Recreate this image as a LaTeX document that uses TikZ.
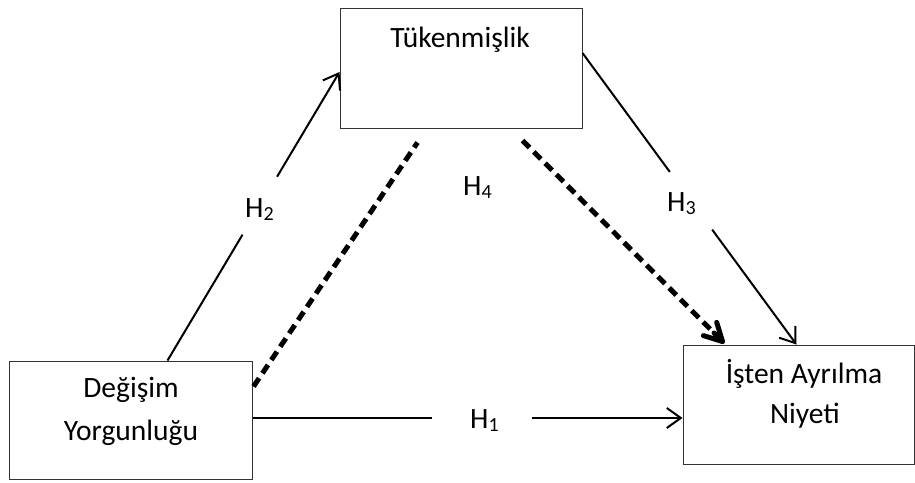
\documentclass[tikz,border=0pt]{standalone}
\usepackage{fontspec}
\setmainfont{Carlito}
\usetikzlibrary{arrows.meta,calc}
\newcommand\Hsub[1]{H\raisebox{-3.5pt}{\fontsize{20}{20}\selectfont #1}}
\begin{document}
\begin{tikzpicture}[x=1pt,y=-1pt,
  box/.style={draw=black!80, line width=1pt, inner sep=0pt},
  lbl/.style={font=\fontsize{29.5}{34}\selectfont, inner sep=0pt, anchor=base},
  hlbl/.style={font=\fontsize{29.5}{34}\selectfont, inner sep=0pt, anchor=base west},
  plain/.style={line width=2pt, black},
  arr/.style={line width=2pt, black, -{Straight Barb[length=14pt,width=20pt]}},
  dashline/.style={line width=5pt, black, dash pattern=on 10pt off 6pt},
  barbline/.style={line width=5pt, black, line cap=round, line join=round}]
\useasboundingbox (0,0) rectangle (915,482);
% boxes
\node[box, minimum width=242pt, minimum height=120pt] (tk) at (461,68) {};
\node[box, minimum width=243pt, minimum height=118pt] (dy) at (130.5,420) {};
\node[box, minimum width=231pt, minimum height=119pt] (ia) at (798.5,404.5) {};
% box texts
\node[lbl] (tkt) at (460,47) {Tükenmişlik};
\node[lbl] (dyt1) at (131,397) {Değişim};
\node[lbl] (dyt2) at (131,440) {Yorgunluğu};
\node[lbl] (iat1) at (804,383) {İşten Ayrılma};
\node[lbl] (iat2) at (805,423) {Niyeti};
% labels
\node[hlbl] (h1) at (470,428) {\Hsub{1}};
\node[hlbl] (h2) at (245,217) {\Hsub{2}};
\node[hlbl] (h3) at (667,211) {\Hsub{3}};
\node[hlbl] (h4) at (463,195) {\Hsub{4}};
% H2
\coordinate (h2a) at ($(dy.north west)+(159,0)$);
\coordinate (h2b) at ($(tk.west)+(0,4)$);
\draw[plain] (h2a) -- ($(h2a)!0.436!(h2b)$);
\draw[arr] ($(h2a)!0.637!(h2b)$) -- (h2b);
% H3
\coordinate (h3a) at ($(tk.east)+(0,-15)$);
\coordinate (h3b) at ($(ia.north west)+(114,0)$);
\draw[plain] (h3a) -- ($(h3a)!0.408!(h3b)$);
\draw[arr] ($(h3a)!0.606!(h3b)$) -- (h3b);
% H1
\coordinate (h1a) at ($(dy.east)+(0,-2)$);
\coordinate (h1b) at (ia.west |- h1a);
\draw[plain] (h1a) -- ($(h1a)!0.418!(h1b)$);
\draw[arr] ($(h1a)!0.65!(h1b)$) -- (h1b);
% H4 dashed
\draw[dashline] ($(dy.north east)+(1,26)$) -- ($(tk.south west)+(78,14)$);
\coordinate (h4a) at ($(tk.south west)+(183,12)$);
\coordinate (h4b) at ($(ia.north west)+(40,-3)$);
\draw[dashline] (h4a) -- ($(h4b)!12pt!(h4a)$);
\draw[barbline] ($(h4b)!12pt!(h4a)$) -- (h4b);
\draw[barbline] ($(h4b)!20pt!28:(h4a)$) -- (h4b) -- ($(h4b)!20pt!-28:(h4a)$);
\end{tikzpicture}
\end{document}
